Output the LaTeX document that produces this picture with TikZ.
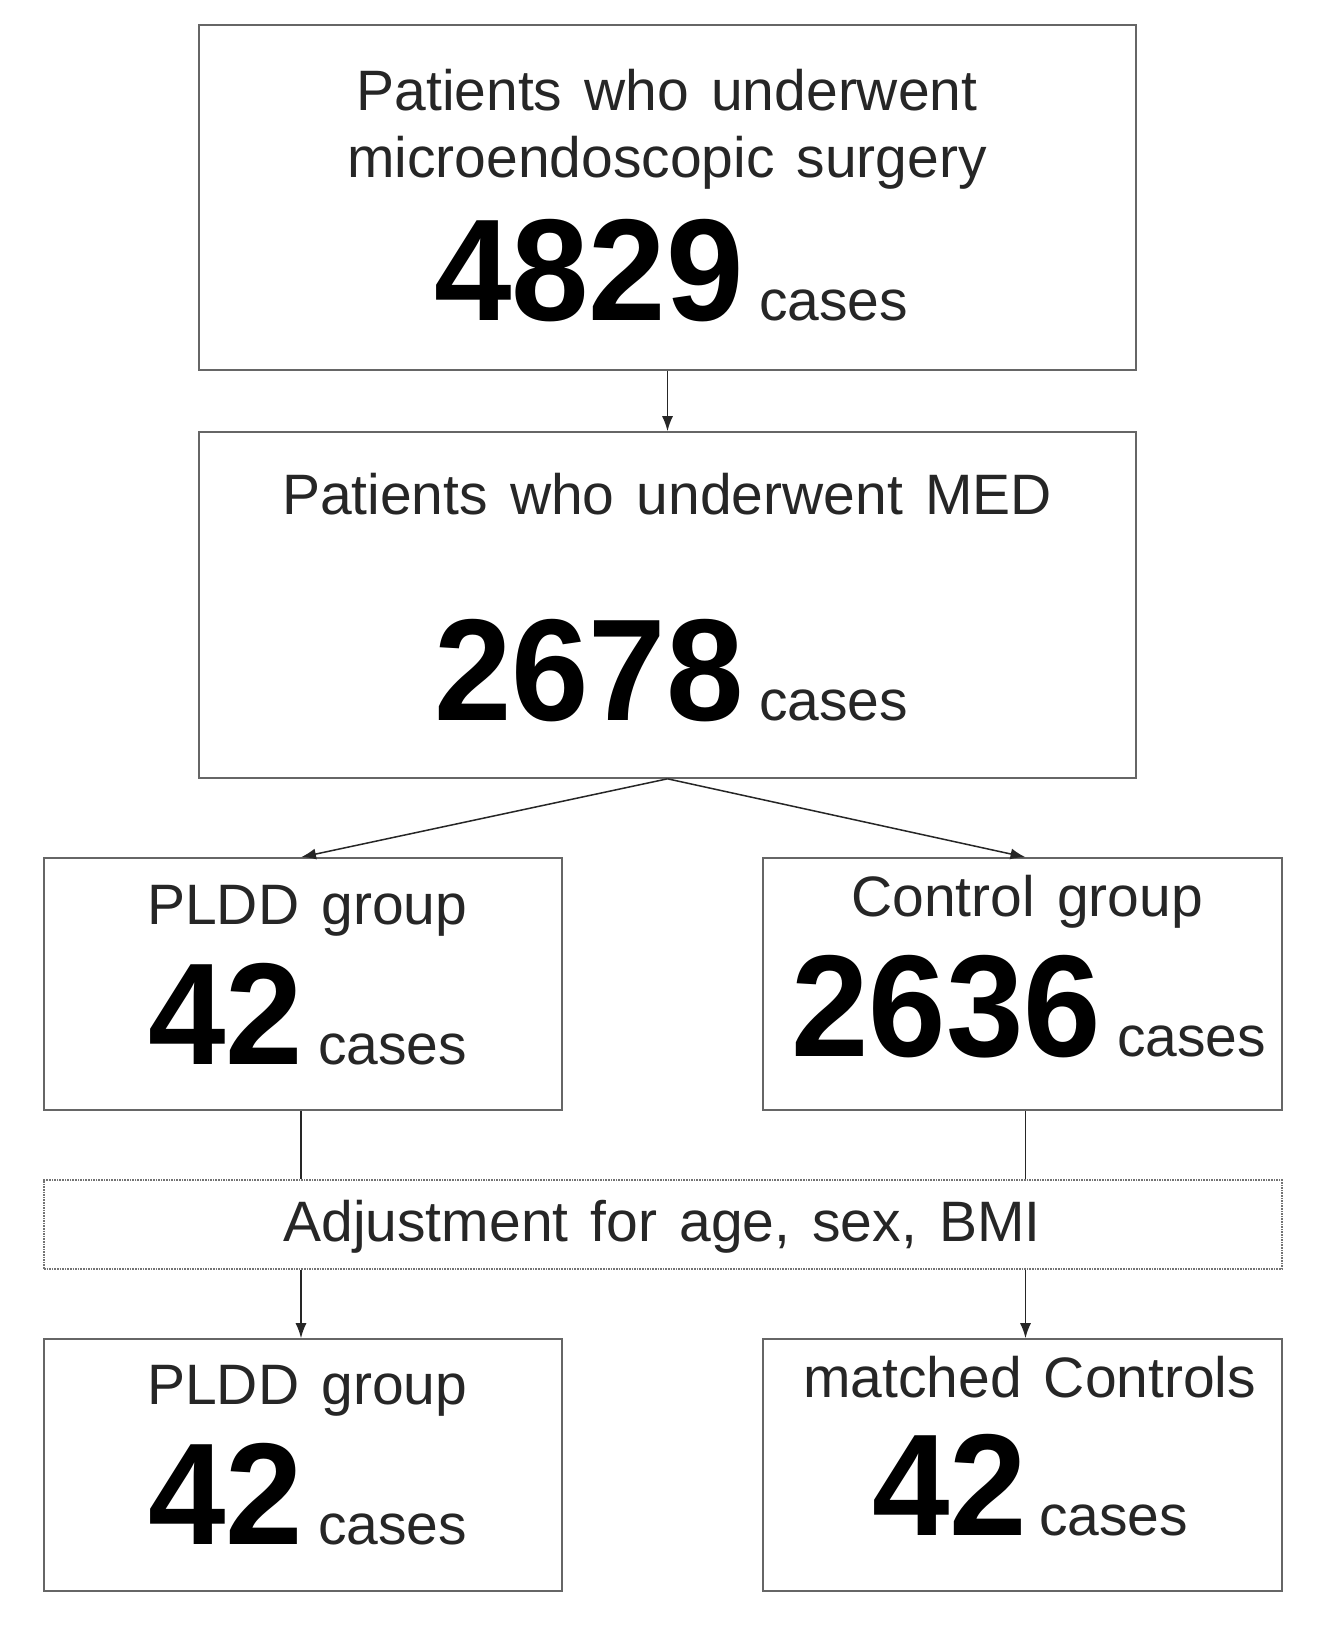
\documentclass[tikz,border=0pt]{standalone}
\usepackage{fontspec}
\setmainfont{Liberation Sans}
\newfontfamily\labfont[WordSpace=1.4]{Liberation Sans}
\newfontfamily\numfont[FakeStretch=0.96]{Liberation Sans Bold}
\usetikzlibrary{arrows.meta}
\tikzset{
  box/.style={draw=black!60, line width=1.6pt, rectangle, inner sep=0pt, fill=white},
  dotbox/.style={draw=black!55, line width=1.6pt, densely dotted, rectangle, inner sep=0pt},
  lab/.style={font=\labfont\fontsize{57}{60}\selectfont, text=black!85, inner sep=0pt},
  num/.style={font=\numfont\fontsize{145}{150}\selectfont, text=black, inner sep=0pt},
  conn/.style={draw=black!85, line width=1.5pt},
  arr/.style={conn, -{Latex[length=15pt,width=11pt]}}
}
\begin{document}
\begin{tikzpicture}[x=1pt,y=-1pt]
\path[fill=white] (0,0) rectangle (1328,1628);
\useasboundingbox (0,0) rectangle (1328,1628);

% boxes
\node[box, minimum width=937pt, minimum height=345pt] (b1) at (667.5,197.5) {};
\node[box, minimum width=937pt, minimum height=346pt] (b2) at (667.5,605) {};
\node[box, minimum width=518pt, minimum height=252pt] (p1) at (303,984) {};
\node[box, minimum width=519pt, minimum height=252pt] (c1) at (1022.5,984) {};
\node[dotbox, minimum width=1238pt, minimum height=89pt] (adj) at (663,1224.5) {};
\node[box, minimum width=518pt, minimum height=252pt] (p2) at (303,1465) {};
\node[box, minimum width=519pt, minimum height=252pt] (m2) at (1022.5,1465) {};

% texts box 1
\node[lab, anchor=base] (t1a) at (667,110) {Patients who underwent};
\node[lab, anchor=base] (t1b) at (667,177) {microendoscopic surgery};
\node[num, anchor=base west] (n1) at (434,320) {4829};
\node[lab, anchor=base west] (u1) at (759,320) {cases};

% box 2
\node[lab, anchor=base] (t2) at (667,514) {Patients who underwent MED};
\node[num, anchor=base west] (n2) at (434,720) {2678};
\node[lab, anchor=base west] (u2) at (759,720) {cases};

% PLDD group
\node[lab, anchor=base west] (t3) at (147,924) {PLDD group};
\node[num, anchor=base west] (n3) at (148,1064) {42};
\node[lab, anchor=base west] (u3) at (318,1064) {cases};

% Control group
\node[lab, anchor=base west] (t4) at (851,916) {Control group};
\node[num, anchor=base west] (n4) at (791,1056) {2636};
\node[lab, anchor=base west] (u4) at (1117,1056) {cases};

% Adjustment
\node[lab, anchor=base] (t5) at (662,1241) {Adjustment for age, sex, BMI};

% bottom PLDD
\node[lab, anchor=base west] (t6) at (147,1404) {PLDD group};
\node[num, anchor=base west] (n6) at (148,1544) {42};
\node[lab, anchor=base west] (u6) at (318,1544) {cases};

% matched controls
\node[lab, anchor=base west] (t7) at (803,1397) {matched Controls};
\node[num, anchor=base west] (n7) at (872,1535) {42};
\node[lab, anchor=base west] (u7) at (1039,1535) {cases};

% connectors
\draw[arr] (b1.south) -- (b2.north);
\draw[arr] (b2.south) -- ([xshift=-2pt]p1.north);
\draw[arr] (b2.south) -- ([xshift=3pt]c1.north);
\draw[conn] ([xshift=-2pt]p1.south) -- ([xshift=-2pt]p1.south |- adj.north);
\draw[conn] ([xshift=3pt]c1.south) -- ([xshift=3pt]c1.south |- adj.north);
\draw[arr] ([xshift=-2pt]p1.south |- adj.south) -- ([xshift=-2pt]p2.north);
\draw[arr] ([xshift=3pt]c1.south |- adj.south) -- ([xshift=3pt]m2.north);
\end{tikzpicture}
\end{document}
